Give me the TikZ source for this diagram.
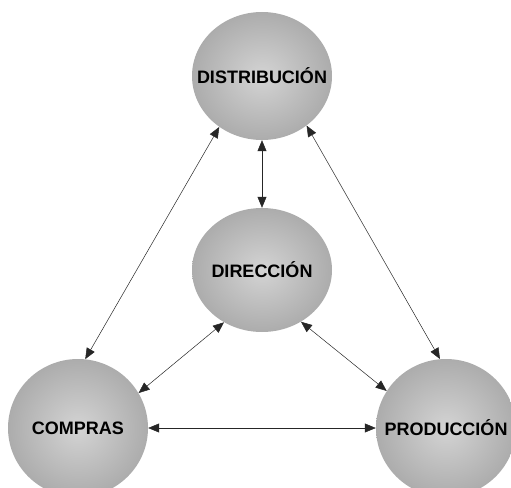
\documentclass[tikz,border=0pt]{standalone}
\usepackage{fontspec}
\setmainfont{Liberation Sans}
\usetikzlibrary{shapes.geometric,arrows.meta}
\definecolor{bolaclaro}{gray}{0.83}
\definecolor{bolaoscuro}{gray}{0.52}
\pgfdeclareradialshading{bola}{\pgfpoint{0bp}{0bp}}{color(0bp)=(bolaclaro); color(50bp)=(bolaoscuro); color(100bp)=(bolaoscuro)}

\begin{document}
\begin{tikzpicture}
			[x=1pt,y=-1pt, esfera/.style={ellipse,shading=bola,inner sep=0pt,minimum width=140pt,minimum height=128pt},
			every label/.style={font=\bfseries\fontsize{18}{20}\selectfont,inner sep=0pt},
			flecha/.style={{Triangle[length=11pt,width=9pt]}-{Triangle[length=11pt,width=9pt]},line width=.5pt,black!85}]
			\useasboundingbox (0,0) rectangle (511,487);
			\node[esfera,label=center:DISTRIBUCIÓN] (1) at (262,76)  {};
			\node[esfera,minimum height=124pt,label=center:DIRECCIÓN] (2) at (262,270)  {};
			\node[esfera,minimum height=138pt,label=center:COMPRAS] (3) at (78,428)  {};
			\node[esfera,minimum height=138pt,label=center:PRODUCCIÓN] (4) at (446,428)  {};
			
			\foreach \a/\b in {1.230/3.84,1.312/4.95,1.south/2.north,2.234/3.30,2.307/4.148,3.east/4.west}
			\draw[flecha] (\a) -- (\b);
			\end{tikzpicture}
\end{document}
